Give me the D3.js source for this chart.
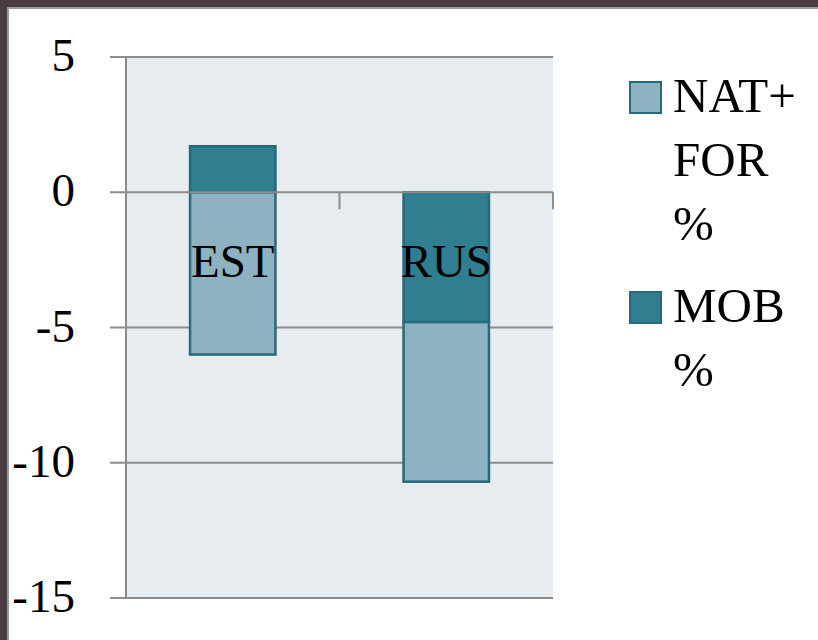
<!DOCTYPE html>
<html>
<head>
<meta charset="utf-8">
<script src="https://cdn.jsdelivr.net/npm/d3@7"></script>
<style>
  body { margin: 0; background: #4a3b43; }
  svg { display: block; }
  text { font-family: "Liberation Serif", "Times New Roman", serif; fill: #000; }
</style>
</head>
<body>
<div id="chart"></div>
<script>
// data
var categories = ["EST", "RUS"];
var natFor = [-6.0, -5.9];
var mob = [1.7, -4.8];
var yTicks = [5, 0, -5, -10, -15];

var width = 818;
var height = 640;

var svg = d3.select("#chart").append("svg")
    .attr("width", width)
    .attr("height", height);

// slide frame: dark edge, thin grey line, white page
svg.append("rect").attr("width", width).attr("height", height).attr("fill", "#4a3b43");
svg.append("rect").attr("x", 7).attr("y", 7).attr("width", width).attr("height", height).attr("fill", "#9a9a9a");
svg.append("rect").attr("x", 9).attr("y", 9).attr("width", width).attr("height", height).attr("fill", "#fff");

var plot = { left: 126, right: 553, top: 57, bottom: 598 };

var x = d3.scaleBand()
    .domain(categories)
    .range([plot.left, plot.right])
    .paddingInner(0.6)
    .paddingOuter(0.3);

var y = d3.scaleLinear()
    .domain([-15, 5])
    .range([plot.bottom, plot.top]);

var rows = categories.map(function(c, i) {
    return { cat: c, mob: mob[i], natFor: natFor[i] };
});

var stack = d3.stack()
    .keys(["mob", "natFor"])
    .offset(d3.stackOffsetDiverging);
var layers = stack(rows);

var colors = { mob: "#2f7f90", natFor: "#8db3c2" };

// plot background
svg.append("rect")
    .attr("x", plot.left)
    .attr("y", plot.top)
    .attr("width", plot.right - plot.left)
    .attr("height", plot.bottom - plot.top)
    .attr("fill", "#e7ecf0");

// gridlines (zero is drawn later, over the bars)
svg.append("g")
    .selectAll("line")
    .data(yTicks.filter(function(d) { return d !== 0; }))
    .enter().append("line")
    .attr("x1", plot.left - 16)
    .attr("x2", plot.right)
    .attr("y1", function(d) { return y(d); })
    .attr("y2", function(d) { return y(d); })
    .attr("stroke", "#8c8c8c")
    .attr("stroke-width", 2);

// y axis line
svg.append("line")
    .attr("x1", plot.left).attr("x2", plot.left)
    .attr("y1", plot.top).attr("y2", plot.bottom)
    .attr("stroke", "#8c8c8c")
    .attr("stroke-width", 2);

// bars
svg.append("g")
    .selectAll("g")
    .data(layers)
    .enter().append("g")
    .attr("fill", function(d) { return colors[d.key]; })
    .selectAll("rect")
    .data(function(d) { return d; })
    .enter().append("rect")
    .attr("x", function(d) { return x(d.data.cat); })
    .attr("width", x.bandwidth())
    .attr("y", function(d) { return y(Math.max(d[0], d[1])); })
    .attr("height", function(d) { return Math.abs(y(d[0]) - y(d[1])); })
    .attr("stroke", "#27697a")
    .attr("stroke-width", 2.5);

// zero line with category ticks
svg.append("line")
    .attr("x1", plot.left - 16).attr("x2", plot.right)
    .attr("y1", y(0)).attr("y2", y(0))
    .attr("stroke", "#8c8c8c")
    .attr("stroke-width", 2);

var catEdges = [plot.left].concat(categories.map(function(c) { return x(c) + x.bandwidth() / 2 + x.step() / 2; }));
svg.append("g")
    .selectAll("line")
    .data(catEdges)
    .enter().append("line")
    .attr("x1", function(d) { return d; })
    .attr("x2", function(d) { return d; })
    .attr("y1", y(0))
    .attr("y2", y(0) + 17)
    .attr("stroke", "#8c8c8c")
    .attr("stroke-width", 2);

// y tick labels
svg.append("g")
    .selectAll("text")
    .data(yTicks)
    .enter().append("text")
    .attr("x", 75)
    .attr("y", function(d) { return y(d) + 14; })
    .attr("text-anchor", "end")
    .style("font-size", "47px")
    .text(function(d) { return d; });

// category labels
svg.append("g")
    .selectAll("text")
    .data(categories)
    .enter().append("text")
    .attr("x", function(d) { return x(d) + x.bandwidth() / 2; })
    .attr("y", 277)
    .attr("text-anchor", "middle")
    .style("font-size", "47px")
    .text(function(d) { return d; });

// legend
var legend = [
    { key: "natFor", lines: ["NAT+", "FOR", "%"], top: 82 },
    { key: "mob", lines: ["MOB", "%"], top: 292 }
];

var lg = svg.append("g").selectAll("g")
    .data(legend)
    .enter().append("g");

lg.append("rect")
    .attr("x", 630)
    .attr("y", function(d) { return d.top; })
    .attr("width", 31)
    .attr("height", 31)
    .attr("fill", function(d) { return colors[d.key]; })
    .attr("stroke", "#27697a")
    .attr("stroke-width", 2);

lg.append("text")
    .style("font-size", "49px")
    .selectAll("tspan")
    .data(function(d) { return d.lines.map(function(l, i) { return { t: l, y: d.top + 30 + i * 64 }; }); })
    .enter().append("tspan")
    .attr("x", 673)
    .attr("y", function(d) { return d.y; })
    .text(function(d) { return d.t; });
</script>
</body>
</html>
